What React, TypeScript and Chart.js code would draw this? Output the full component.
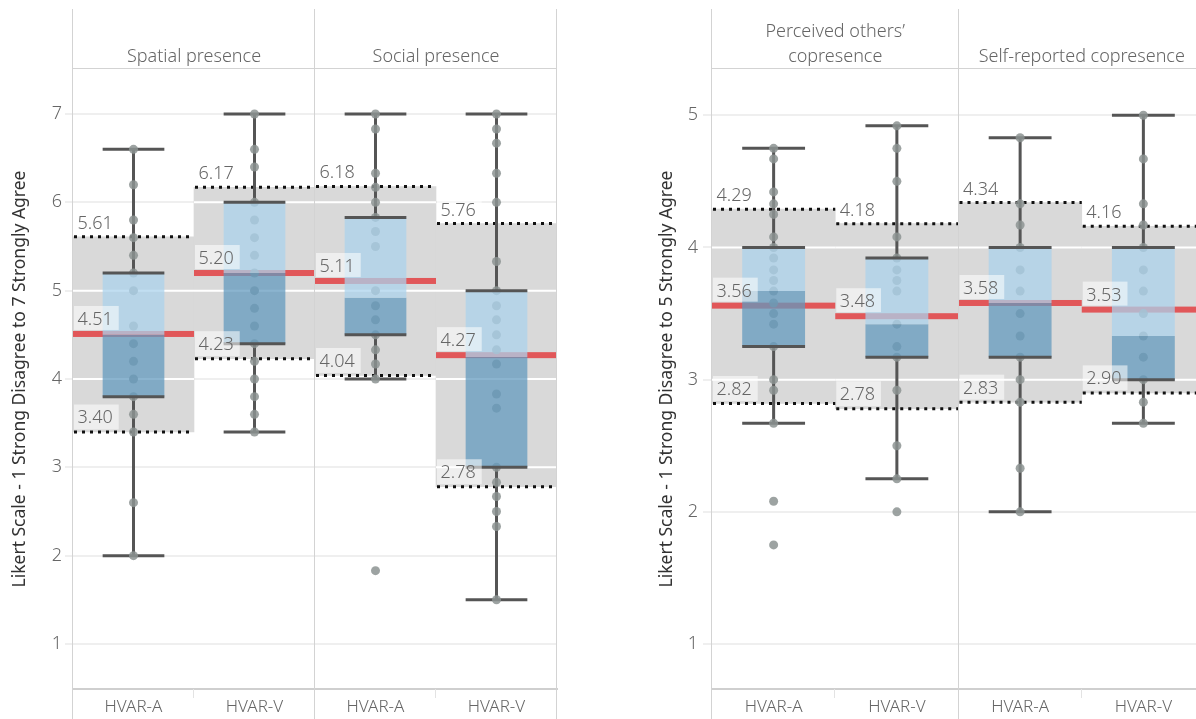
import React, { useEffect, useRef } from 'react';
import { Chart, registerables } from 'chart.js';

Chart.register(...registerables);

const FONT = '"Noto Sans", "DejaVu Sans", sans-serif';
const WEIGHT = '300';

// ---------- Left panel data (7-point scale) ----------
const leftKeys = ['spatial-A', 'spatial-V', 'social-A', 'social-V'];
const leftLabels = ['HVAR-A', 'HVAR-V', 'HVAR-A', 'HVAR-V'];
const leftPanels = [['Spatial presence'], ['Social presence']];
const leftTicks = [1, 2, 3, 4, 5, 6, 7];
const leftTitle = 'Likert Scale - 1 Strong Disagree to 7 Strongly Agree';
const leftMean = [4.51, 5.2, 5.11, 4.27];
const leftBandLo = [3.4, 4.23, 4.04, 2.78];
const leftBandHi = [5.61, 6.17, 6.18, 5.76];
const leftQ1 = [3.8, 4.4, 4.5, 3.0];
const leftMedian = [4.5, 5.2, 4.92, 4.25];
const leftQ3 = [5.2, 6.0, 5.83, 5.0];
const leftWhiskerLo = [2.0, 3.4, 4.0, 1.5];
const leftWhiskerHi = [6.6, 7.0, 7.0, 7.0];
const spatialA = [6.6, 6.2, 5.8, 5.6, 5.4, 5.2, 5.0, 4.6, 4.4, 4.2, 4.0, 3.8, 3.6, 3.4, 2.6, 2.0];
const spatialV = [7.0, 6.6, 6.4, 6.0, 5.8, 5.6, 5.4, 5.2, 5.0, 4.8, 4.6, 4.4, 4.2, 4.0, 3.8, 3.6, 3.4];
const socialA = [7.0, 6.83, 6.33, 6.17, 6.0, 5.83, 5.67, 5.5, 5.0, 4.83, 4.67, 4.5, 4.33, 4.17, 4.0, 1.83];
const socialV = [7.0, 6.83, 6.67, 6.33, 6.0, 5.33, 5.0, 4.83, 4.67, 4.5, 4.33, 4.17, 3.83, 3.67, 3.0, 2.83, 2.67, 2.5, 2.33, 1.5];

// ---------- Right panel data (5-point scale) ----------
const rightKeys = ['perceived-A', 'perceived-V', 'self-A', 'self-V'];
const rightLabels = ['HVAR-A', 'HVAR-V', 'HVAR-A', 'HVAR-V'];
const rightPanels = [['Perceived others\u2019', 'copresence'], ['Self-reported copresence']];
const rightTicks = [1, 2, 3, 4, 5];
const rightTitle = 'Likert Scale - 1 Strong Disagree to 5 Strongly Agree';
const rightMean = [3.56, 3.48, 3.58, 3.53];
const rightBandLo = [2.82, 2.78, 2.83, 2.9];
const rightBandHi = [4.29, 4.18, 4.34, 4.16];
const rightQ1 = [3.25, 3.17, 3.17, 3.0];
const rightMedian = [3.67, 3.42, 3.58, 3.33];
const rightQ3 = [4.0, 3.92, 4.0, 4.0];
const rightWhiskerLo = [2.67, 2.25, 2.0, 2.67];
const rightWhiskerHi = [4.75, 4.92, 4.83, 5.0];
const perceivedA = [4.75, 4.67, 4.42, 4.33, 4.25, 4.08, 4.0, 3.92, 3.83, 3.75, 3.67, 3.58, 3.5, 3.42, 3.25, 3.0, 2.92, 2.67, 2.08, 1.75];
const perceivedV = [4.92, 4.75, 4.5, 4.08, 3.92, 3.83, 3.75, 3.67, 3.42, 3.25, 3.17, 2.92, 2.5, 2.25, 2.0];
const selfA = [4.83, 4.33, 4.17, 4.0, 3.83, 3.67, 3.5, 3.33, 3.17, 3.0, 2.83, 2.33, 2.0];
const selfV = [5.0, 4.67, 4.33, 4.17, 4.0, 3.83, 3.67, 3.5, 3.33, 3.17, 3.0, 2.83, 2.67];

type Spec = {
  keys: string[]; labels: string[]; panels: string[][]; ticks: number[]; title: string;
  mean: number[]; bandLo: number[]; bandHi: number[]; q1: number[]; median: number[]; q3: number[];
  whLo: number[]; whHi: number[]; dots: number[][];
};
type Layout = {
  yMin: number; yMax: number; axisWidth: number; padRight: number; titlePad: number;
  tickLen: number; tickPad: number; rightEdge: boolean;
};

const BOX_PCT = 0.51;

function makePlugin(spec: Spec, lay: Layout) {
  return {
    id: 'boxDecor',
    afterDatasetDraw(chart: any, args: any) {
      if (args.index !== 0) return;
      const ctx = chart.ctx;
      const xs = chart.scales.x;
      const ys = chart.scales.y;
      const half = (xs.getPixelForValue(1) - xs.getPixelForValue(0)) / 2;
      const bw = half * 2 * BOX_PCT;
      ctx.save();
      spec.keys.forEach((_, i) => {
        const cx = xs.getPixelForValue(i);
        const l = cx - half;
        const r = cx + half;
        ctx.strokeStyle = '#ffffff';
        ctx.lineWidth = 2;
        spec.ticks.forEach((t) => {
          if (t > spec.bandLo[i] && t < spec.bandHi[i]) {
            const py = ys.getPixelForValue(t);
            ctx.beginPath(); ctx.moveTo(l, py); ctx.lineTo(r, py); ctx.stroke();
          }
        });
        ctx.strokeStyle = '#111111';
        ctx.lineWidth = 3;
        ctx.setLineDash([3, 5]);
        [spec.bandLo[i], spec.bandHi[i]].forEach((v) => {
          const py = ys.getPixelForValue(v);
          ctx.beginPath(); ctx.moveTo(l + 1, py); ctx.lineTo(r, py); ctx.stroke();
        });
        ctx.setLineDash([]);
        ctx.strokeStyle = '#555555';
        ctx.lineWidth = 3;
        const pLo = ys.getPixelForValue(spec.whLo[i]);
        const pHi = ys.getPixelForValue(spec.whHi[i]);
        const pQ1 = ys.getPixelForValue(spec.q1[i]);
        const pQ3 = ys.getPixelForValue(spec.q3[i]);
        ctx.beginPath();
        ctx.moveTo(cx, pLo); ctx.lineTo(cx, pQ1);
        ctx.moveTo(cx, pQ3); ctx.lineTo(cx, pHi);
        ctx.moveTo(cx - bw / 2, pLo); ctx.lineTo(cx + bw / 2, pLo);
        ctx.moveTo(cx - bw / 2, pHi); ctx.lineTo(cx + bw / 2, pHi);
        ctx.stroke();
        const pm = ys.getPixelForValue(spec.mean[i]);
        ctx.fillStyle = '#e15759';
        ctx.fillRect(l, pm - 3, r - l, 6);
      });
      ctx.restore();
    },
    afterDatasetsDraw(chart: any) {
      const ctx = chart.ctx;
      const xs = chart.scales.x;
      const ys = chart.scales.y;
      const ca = chart.chartArea;
      const H = chart.height;
      const half = (xs.getPixelForValue(1) - xs.getPixelForValue(0)) / 2;
      const bw = half * 2 * BOX_PCT;
      ctx.save();
      ctx.strokeStyle = '#555555';
      ctx.lineWidth = 3;
      spec.keys.forEach((_, i) => {
        const cx = xs.getPixelForValue(i);
        [spec.q1[i], spec.q3[i]].forEach((v) => {
          const py = ys.getPixelForValue(v);
          ctx.beginPath(); ctx.moveTo(cx - bw / 2, py); ctx.lineTo(cx + bw / 2, py); ctx.stroke();
        });
      });
      ctx.strokeStyle = '#d3d3d3';
      ctx.lineWidth = 1;
      const mid = (xs.getPixelForValue(1) + xs.getPixelForValue(2)) / 2;
      const vx = [ca.left, mid];
      if (lay.rightEdge) vx.push(ca.right);
      vx.forEach((x) => {
        const px = Math.round(x) - 0.5;
        ctx.beginPath(); ctx.moveTo(px, 9); ctx.lineTo(px, H); ctx.stroke();
      });
      ctx.beginPath(); ctx.moveTo(ca.left, Math.round(ca.top) - 0.5); ctx.lineTo(ca.right, Math.round(ca.top) - 0.5); ctx.stroke();
      ctx.strokeStyle = '#e3e3e3';
      [0, 2].forEach((k) => {
        const sx = Math.round((xs.getPixelForValue(k) + xs.getPixelForValue(k + 1)) / 2) - 0.5;
        ctx.beginPath(); ctx.moveTo(sx, ca.bottom); ctx.lineTo(sx, ca.bottom + 9); ctx.stroke();
      });
      ctx.fillStyle = '#666666';
      ctx.font = `${WEIGHT} 18px ${FONT}`;
      ctx.textAlign = 'center';
      ctx.textBaseline = 'middle';
      spec.panels.forEach((lines, p) => {
        const hx = (xs.getPixelForValue(p * 2) + xs.getPixelForValue(p * 2 + 1)) / 2;
        lines.forEach((t, j) => {
          const hy = ca.top - 12 - (lines.length - 1 - j) * 25;
          ctx.fillText(t, hx, hy);
        });
      });
      ctx.textAlign = 'left';
      ctx.textBaseline = 'alphabetic';
      const label = (txt: string, left: number, base: number, bgBottom: number) => {
        const tw = ctx.measureText(txt).width;
        ctx.fillStyle = 'rgba(255,255,255,0.55)';
        ctx.fillRect(left + 1, base - 19, tw + 9.5, bgBottom - (base - 19));
        ctx.fillStyle = '#666666';
        ctx.fillText(txt, left + 4.5, base);
      };
      spec.keys.forEach((_, i) => {
        const l = xs.getPixelForValue(i) - half;
        const ph = ys.getPixelForValue(spec.bandHi[i]);
        const pl = ys.getPixelForValue(spec.bandLo[i]);
        const pm = ys.getPixelForValue(spec.mean[i]);
        label(spec.bandHi[i].toFixed(2), l, ph - 8, ph - 2.5);
        label(spec.bandLo[i].toFixed(2), l, pl - 8.5, pl - 2.5);
        label(spec.mean[i].toFixed(2), l, pm - 9, pm - 4);
      });
      ctx.restore();
    },
  };
}

function buildConfig(spec: Spec, lay: Layout): any {
  return {
    type: 'bar',
    data: {
      labels: spec.keys,
      datasets: [
        {
          type: 'bar', label: 'band',
          data: spec.bandLo.map((lo, i) => [lo, spec.bandHi[i]]),
          backgroundColor: '#d9d9d9', borderWidth: 0,
          barPercentage: 1, categoryPercentage: 1, grouped: false, order: 5,
        },
        {
          type: 'line', label: 'responses',
          data: spec.dots.flatMap((arr, i) => arr.map((v) => ({ x: spec.keys[i], y: v }))),
          showLine: false, pointRadius: 4.5, pointHoverRadius: 4.5, pointBorderWidth: 0,
          pointBackgroundColor: 'rgba(140,147,146,0.85)', backgroundColor: 'rgba(140,147,146,0.85)', order: 4,
        },
        {
          type: 'bar', label: 'lower',
          data: spec.q1.map((a, i) => [a, spec.median[i]]),
          backgroundColor: 'rgba(99,154,190,0.74)', borderWidth: 0,
          barPercentage: BOX_PCT, categoryPercentage: 1, grouped: false, order: 3,
        },
        {
          type: 'bar', label: 'upper',
          data: spec.median.map((a, i) => [a, spec.q3[i]]),
          backgroundColor: 'rgba(172,210,236,0.74)', borderWidth: 0,
          barPercentage: BOX_PCT, categoryPercentage: 1, grouped: false, order: 2,
        },
      ],
    },
    options: {
      animation: false,
      responsive: false,
      devicePixelRatio: 1,
      events: [],
      layout: { padding: { left: 0, top: 69, right: lay.padRight, bottom: 0 } },
      plugins: { legend: { display: false }, tooltip: { enabled: false }, title: { display: false } },
      scales: {
        x: {
          type: 'category', offset: true,
          grid: { display: false, drawTicks: false },
          border: { display: true, color: '#cfcfcf', width: 2 },
          ticks: {
            callback: (_v: any, i: number) => spec.labels[i],
            color: '#666666', font: { family: FONT, size: 17, weight: WEIGHT }, padding: 8,
            maxRotation: 0, autoSkip: false,
          },
          afterFit: (s: any) => { s.height = 30; },
        },
        y: {
          type: 'linear', min: lay.yMin, max: lay.yMax,
          afterBuildTicks: (s: any) => { s.ticks = spec.ticks.map((v) => ({ value: v })); },
          afterFit: (s: any) => { s.width = lay.axisWidth; },
          grid: { color: '#efefef', lineWidth: 2, tickLength: lay.tickLen, drawTicks: true },
          border: { display: false },
          ticks: { color: '#666666', font: { family: FONT, size: 18, weight: WEIGHT }, padding: lay.tickPad },
          title: {
            display: true, text: spec.title, color: '#333333',
            font: { family: FONT, size: 17.5 }, padding: { top: lay.titlePad, bottom: 0 },
          },
        },
      },
    },
    plugins: [makePlugin(spec, lay)],
  };
}

const leftSpec: Spec = {
  keys: leftKeys, labels: leftLabels, panels: leftPanels, ticks: leftTicks, title: leftTitle,
  mean: leftMean, bandLo: leftBandLo, bandHi: leftBandHi, q1: leftQ1, median: leftMedian, q3: leftQ3,
  whLo: leftWhiskerLo, whHi: leftWhiskerHi, dots: [spatialA, spatialV, socialA, socialV],
};
const rightSpec: Spec = {
  keys: rightKeys, labels: rightLabels, panels: rightPanels, ticks: rightTicks, title: rightTitle,
  mean: rightMean, bandLo: rightBandLo, bandHi: rightBandHi, q1: rightQ1, median: rightMedian, q3: rightQ3,
  whLo: rightWhiskerLo, whHi: rightWhiskerHi, dots: [perceivedA, perceivedV, selfA, selfV],
};

const leftLayout: Layout = { yMin: 0.49, yMax: 7.51, axisWidth: 73, padRight: 43, titlePad: 10, tickLen: 8, tickPad: 3, rightEdge: true };
const rightLayout: Layout = { yMin: 0.66, yMax: 5.35, axisWidth: 112, padRight: 5, titlePad: 57, tickLen: 9, tickPad: 5, rightEdge: false };

function Panel(props: { spec: Spec; lay: Layout; left: number; width: number }) {
  const ref = useRef<HTMLCanvasElement | null>(null);
  useEffect(() => {
    if (!ref.current) return;
    const chart = new Chart(ref.current, buildConfig(props.spec, props.lay));
    return () => chart.destroy();
  }, []);
  return (
    <canvas
      ref={ref}
      width={props.width}
      height={719}
      style={{ position: 'absolute', left: props.left, top: 0, width: props.width, height: 719, display: 'block' }}
    />
  );
}

export default function App() {
  return (
    <div style={{ position: 'fixed', left: 0, top: 0, width: 1196, height: 719, overflow: 'hidden', background: '#ffffff' }}>
      <Panel spec={leftSpec} lay={leftLayout} left={0} width={600} />
      <Panel spec={rightSpec} lay={rightLayout} left={600} width={610} />
    </div>
  );
}
